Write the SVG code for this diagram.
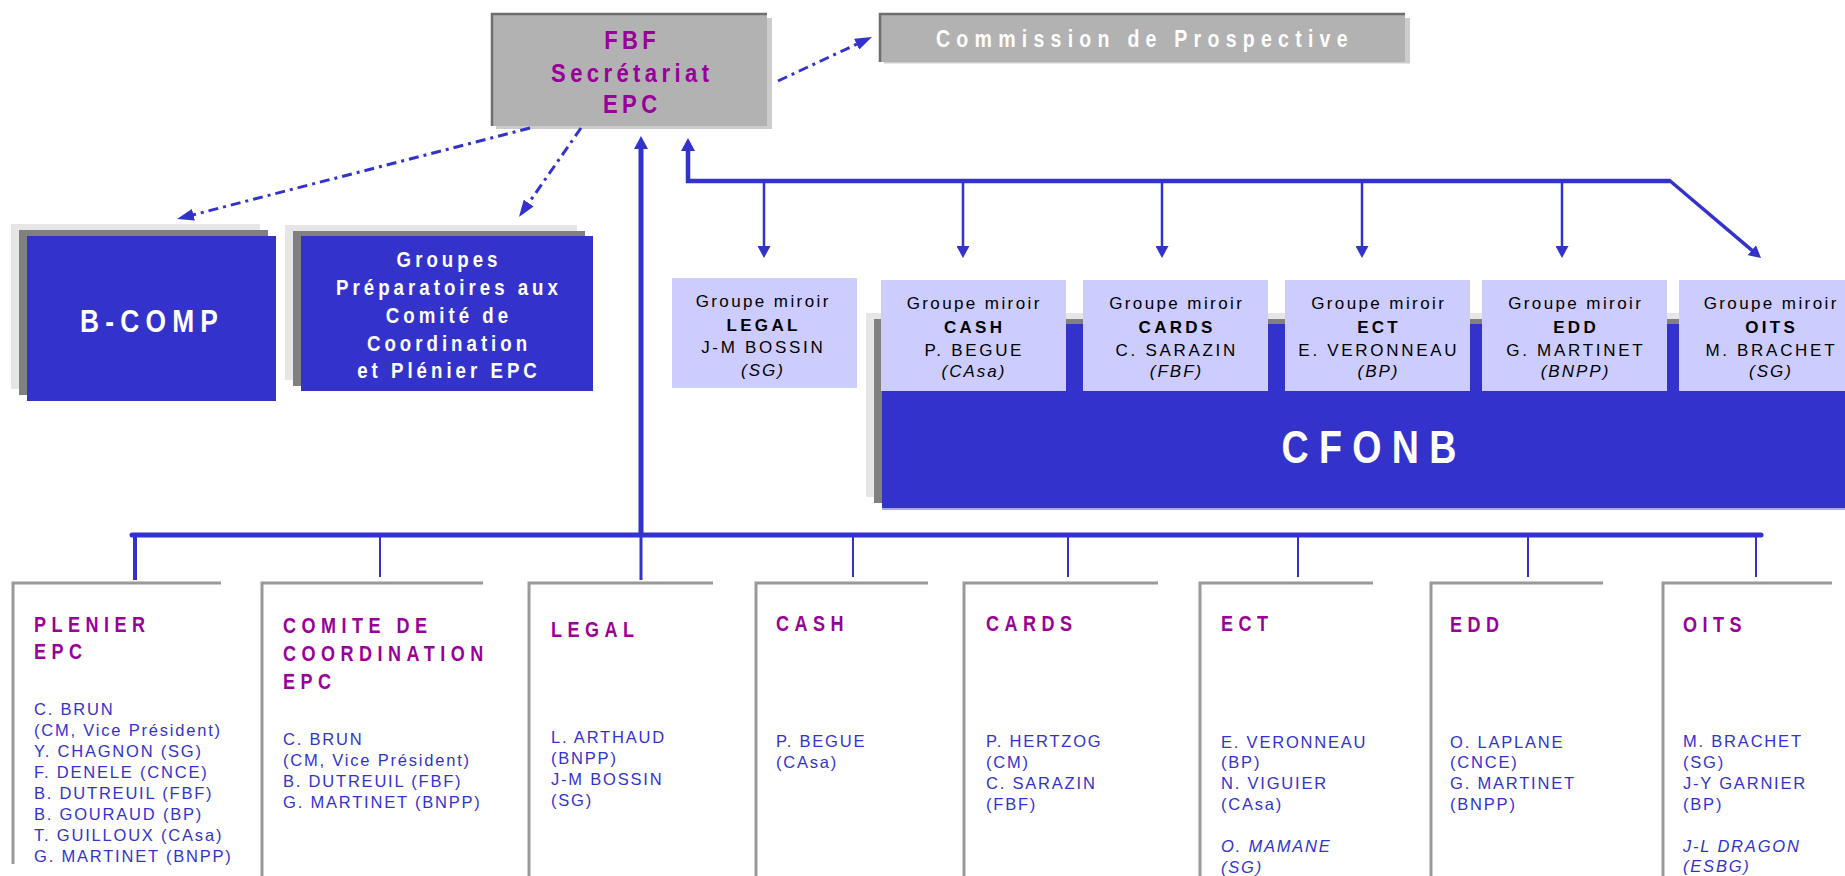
<svg xmlns="http://www.w3.org/2000/svg" width="1845" height="876" viewBox="0 0 1845 876">
<style>
text{font-family:"Liberation Sans",Arial,Helvetica,sans-serif}
.b{font-weight:bold}
.pur{fill:#990099}
.wh{fill:#ffffff}
.mid{text-anchor:middle}
.fbf{font-size:26px;letter-spacing:5.15px}
.com{font-size:23px;letter-spacing:7.35px}
.bcomp{font-size:31px;letter-spacing:7.3px}
.grp{font-size:22px;letter-spacing:4.7px}
.cfonb{font-size:47px;letter-spacing:12.9px}
.ttl{font-size:22px;letter-spacing:6.7px;font-weight:bold;fill:#990099}
.mem{font-size:16.5px;letter-spacing:1.8px;fill:#3333cc}
.it{font-style:italic}
.m1{font-size:17px;letter-spacing:2.4px;fill:#000;text-anchor:middle}
.m2{font-size:17px;letter-spacing:3.3px;fill:#000;text-anchor:middle;font-weight:bold}
.m3{font-size:17px;letter-spacing:2.7px;fill:#000;text-anchor:middle}
.m4{font-size:17px;letter-spacing:2px;fill:#000;text-anchor:middle;font-style:italic}
.mir{fill:#ccccff}
.bx{fill:none;stroke:#999999;stroke-width:3}
.blue{fill:#3333cc}
.lg{fill:#e6e6e6}
.dg{fill:#808080}
.con{fill:none;stroke:#3333cc}
.dd{stroke-width:3;stroke-dasharray:10 5 3 5}
</style>
<defs>
<marker id="ahD" viewBox="0 0 17 12" refX="1" refY="6" markerWidth="17" markerHeight="12" markerUnits="userSpaceOnUse" orient="auto"><path d="M0,0 L17,6 L0,12 z" fill="#3333cc"/></marker>
<marker id="ahT" viewBox="0 0 13 14" refX="1" refY="7" markerWidth="13" markerHeight="14" markerUnits="userSpaceOnUse" orient="auto"><path d="M0,0 L13,7 L0,14 z" fill="#3333cc"/></marker>
<marker id="ahS" viewBox="0 0 12 13" refX="1" refY="6.5" markerWidth="12" markerHeight="13" markerUnits="userSpaceOnUse" orient="auto"><path d="M0,0 L12,6.5 L0,13 z" fill="#3333cc"/></marker>
</defs>
<rect width="1845" height="876" fill="#ffffff"/>

<g id="fbf">
<rect x="496" y="18" width="276" height="111" fill="#cccccc"/>
<rect x="492" y="14" width="275" height="112" fill="#b2b2b2"/>
<path d="M492,126 V14 H767" fill="none" stroke="#6e6e6e" stroke-width="2.5"/>
<g transform="translate(630,0) scale(0.85,1)">
<text class="b pur mid fbf" x="2.6" y="49">FBF</text>
<text class="b pur mid fbf" x="2.6" y="82">Secrétariat</text>
<text class="b pur mid fbf" x="2.6" y="113">EPC</text>
</g>
</g>

<g id="commission">
<rect x="884" y="18" width="526" height="45.5" fill="#cccccc"/>
<rect x="880" y="14" width="525" height="48" fill="#b2b2b2"/>
<path d="M880,62 V14 H1405" fill="none" stroke="#6e6e6e" stroke-width="2.5"/>
<g transform="translate(936,0) scale(0.85,1)">
<text class="b wh com" x="0" y="47">Commission de Prospective</text>
</g>
</g>

<g id="bcomp">
<rect class="lg" x="11" y="224" width="249" height="165"/>
<rect class="dg" x="19" y="230" width="249" height="165"/>
<rect class="blue" x="27" y="236" width="249" height="165"/>
<g transform="translate(149,0) scale(0.85,1)">
<text class="b wh mid bcomp" x="3.65" y="332">B-COMP</text>
</g>
</g>

<g id="groupes">
<rect class="lg" x="285" y="225" width="292" height="155"/>
<rect class="dg" x="293" y="231" width="292" height="155"/>
<rect class="blue" x="301" y="236" width="292" height="155"/>
<g transform="translate(447,0) scale(0.85,1)">
<text class="b wh mid grp" x="2.35" y="267">Groupes</text>
<text class="b wh mid grp" x="2.35" y="295">Préparatoires aux</text>
<text class="b wh mid grp" x="2.35" y="323">Comité de</text>
<text class="b wh mid grp" x="2.35" y="351">Coordination</text>
<text class="b wh mid grp" x="2.35" y="378">et Plénier EPC</text>
</g>
</g>

<g id="cfonb">
<rect class="lg" x="866" y="313" width="990" height="184"/>
<rect class="dg" x="874" y="319" width="990" height="184"/>
<rect class="blue" x="882" y="324" width="990" height="184"/>
<rect x="882" y="508" width="990" height="2" fill="#a8a8e8"/>
<g transform="translate(1369,0) scale(0.8,1)">
<text class="b wh mid cfonb" x="6.45" y="463">CFONB</text>
</g>
</g>

<g id="miroir-legal">
<rect class="mir" x="672" y="278" width="185" height="110"/>
<text class="m1" x="763.2" y="307">Groupe miroir</text>
<text class="m2" x="763.6" y="331">LEGAL</text>
<text class="m3" x="763.3" y="353">J-M BOSSIN</text>
<text class="m4" x="763" y="376">(SG)</text>
</g>
<g id="miroir-cash">
<rect class="mir" x="881" y="280" width="185" height="111"/>
<text class="m1" x="974.2" y="309">Groupe miroir</text>
<text class="m2" x="974.6" y="333">CASH</text>
<text class="m3" x="974.3" y="356">P. BEGUE</text>
<text class="m4" x="974" y="377">(CAsa)</text>
</g>
<g id="miroir-cards">
<rect class="mir" x="1083" y="280" width="185" height="111"/>
<text class="m1" x="1176.7" y="309">Groupe miroir</text>
<text class="m2" x="1177.1" y="333">CARDS</text>
<text class="m3" x="1176.8" y="356">C. SARAZIN</text>
<text class="m4" x="1176.5" y="377">(FBF)</text>
</g>
<g id="miroir-ect">
<rect class="mir" x="1285" y="280" width="185" height="111"/>
<text class="m1" x="1378.7" y="309">Groupe miroir</text>
<text class="m2" x="1379.1" y="333">ECT</text>
<text class="m3" x="1378.8" y="356">E. VERONNEAU</text>
<text class="m4" x="1378.5" y="377">(BP)</text>
</g>
<g id="miroir-edd">
<rect class="mir" x="1482" y="280" width="185" height="111"/>
<text class="m1" x="1575.7" y="309">Groupe miroir</text>
<text class="m2" x="1576.1" y="333">EDD</text>
<text class="m3" x="1575.8" y="356">G. MARTINET</text>
<text class="m4" x="1575.5" y="377">(BNPP)</text>
</g>
<g id="miroir-oits">
<rect class="mir" x="1679" y="280" width="185" height="111"/>
<text class="m1" x="1771.2" y="309">Groupe miroir</text>
<text class="m2" x="1771.6" y="333">OITS</text>
<text class="m3" x="1771.3" y="356">M. BRACHET</text>
<text class="m4" x="1771" y="377">(SG)</text>
</g>

<g id="box-plenier">
<path class="bx" d="M13,864 V583 H221"/>
<g transform="translate(34,0) scale(0.82,1)">
<text class="ttl" x="0" y="632">PLENIER</text>
<text class="ttl" x="0" y="659">EPC</text>
</g>
<text class="mem" x="34" y="715">C. BRUN</text>
<text class="mem" x="34" y="736">(CM, Vice Président)</text>
<text class="mem" x="34" y="757">Y. CHAGNON (SG)</text>
<text class="mem" x="34" y="778">F. DENELE (CNCE)</text>
<text class="mem" x="34" y="799">B. DUTREUIL (FBF)</text>
<text class="mem" x="34" y="820">B. GOURAUD (BP)</text>
<text class="mem" x="34" y="841">T. GUILLOUX (CAsa)</text>
<text class="mem" x="34" y="862">G. MARTINET (BNPP)</text>
</g>

<g id="box-comite">
<path class="bx" d="M262,876 V583 H483"/>
<g transform="translate(283,0) scale(0.82,1)">
<text class="ttl" x="0" y="633">COMITE DE</text>
<text class="ttl" x="0" y="661">COORDINATION</text>
<text class="ttl" x="0" y="689">EPC</text>
</g>
<text class="mem" x="283" y="745">C. BRUN</text>
<text class="mem" x="283" y="766">(CM, Vice Président)</text>
<text class="mem" x="283" y="787">B. DUTREUIL (FBF)</text>
<text class="mem" x="283" y="808">G. MARTINET (BNPP)</text>
</g>

<g id="box-legal">
<path class="bx" d="M529,876 V583 H713"/>
<g transform="translate(551,0) scale(0.82,1)">
<text class="ttl" x="0" y="637">LEGAL</text>
</g>
<text class="mem" x="551" y="743">L. ARTHAUD</text>
<text class="mem" x="551" y="764">(BNPP)</text>
<text class="mem" x="551" y="785">J-M BOSSIN</text>
<text class="mem" x="551" y="806">(SG)</text>
</g>

<g id="box-cash">
<path class="bx" d="M756,876 V583 H928"/>
<g transform="translate(776,0) scale(0.82,1)">
<text class="ttl" x="0" y="631">CASH</text>
</g>
<text class="mem" x="776" y="747">P. BEGUE</text>
<text class="mem" x="776" y="768">(CAsa)</text>
</g>

<g id="box-cards">
<path class="bx" d="M964,876 V583 H1158"/>
<g transform="translate(986,0) scale(0.82,1)">
<text class="ttl" x="0" y="631">CARDS</text>
</g>
<text class="mem" x="986" y="747">P. HERTZOG</text>
<text class="mem" x="986" y="768">(CM)</text>
<text class="mem" x="986" y="789">C. SARAZIN</text>
<text class="mem" x="986" y="810">(FBF)</text>
</g>

<g id="box-ect">
<path class="bx" d="M1200,876 V583 H1373"/>
<g transform="translate(1221,0) scale(0.82,1)">
<text class="ttl" x="0" y="631">ECT</text>
</g>
<text class="mem" x="1221" y="748">E. VERONNEAU</text>
<text class="mem" x="1221" y="768">(BP)</text>
<text class="mem" x="1221" y="789">N. VIGUIER</text>
<text class="mem" x="1221" y="810">(CAsa)</text>
<text class="mem it" x="1221" y="852">O. MAMANE</text>
<text class="mem it" x="1221" y="873">(SG)</text>
</g>

<g id="box-edd">
<path class="bx" d="M1431,876 V583 H1603"/>
<g transform="translate(1450,0) scale(0.82,1)">
<text class="ttl" x="0" y="632">EDD</text>
</g>
<text class="mem" x="1450" y="748">O. LAPLANE</text>
<text class="mem" x="1450" y="768">(CNCE)</text>
<text class="mem" x="1450" y="789">G. MARTINET</text>
<text class="mem" x="1450" y="810">(BNPP)</text>
</g>

<g id="box-oits">
<path class="bx" d="M1663,876 V583 H1832"/>
<g transform="translate(1683,0) scale(0.82,1)">
<text class="ttl" x="0" y="632">OITS</text>
</g>
<text class="mem" x="1683" y="747">M. BRACHET</text>
<text class="mem" x="1683" y="768">(SG)</text>
<text class="mem" x="1683" y="789">J-Y GARNIER</text>
<text class="mem" x="1683" y="810">(BP)</text>
<text class="mem it" x="1683" y="852">J-L DRAGON</text>
<text class="mem it" x="1683" y="872">(ESBG)</text>
</g>

<g id="connectors">
<path class="con dd" d="M778,81 L857.5,43.8" marker-end="url(#ahD)"/>
<path class="con dd" d="M530,128 L192.5,215" marker-end="url(#ahD)"/>
<path class="con dd" d="M581,128 L528.1,203.9" marker-end="url(#ahD)"/>
<path class="con" stroke-width="5" d="M641,537 V148" marker-end="url(#ahT)"/>
<path class="con" stroke-width="4.5" d="M1670,181 H688 V150" marker-end="url(#ahT)"/>
<path class="con" stroke-width="3.5" d="M1669,180 L1752.6,250.9" marker-end="url(#ahS)"/>
<path class="con" stroke-width="2.5" d="M764,181 V247" marker-end="url(#ahS)"/>
<path class="con" stroke-width="2.5" d="M963,181 V247" marker-end="url(#ahS)"/>
<path class="con" stroke-width="2.5" d="M1162,181 V247" marker-end="url(#ahS)"/>
<path class="con" stroke-width="2.5" d="M1362,181 V247" marker-end="url(#ahS)"/>
<path class="con" stroke-width="2.5" d="M1562,181 V247" marker-end="url(#ahS)"/>
<path class="con" stroke-width="5" stroke-linecap="round" d="M132,535 H1761"/>
<path class="con" stroke-width="4" d="M135,535 V580"/>
<path class="con" stroke-width="2" d="M380,535 V577"/>
<path class="con" stroke-width="3" d="M641,535 V580"/>
<path class="con" stroke-width="2" d="M853,535 V577"/>
<path class="con" stroke-width="2" d="M1068,535 V577"/>
<path class="con" stroke-width="2" d="M1298,535 V577"/>
<path class="con" stroke-width="2" d="M1528,535 V577"/>
<path class="con" stroke-width="2" d="M1756,535 V577"/>
</g>
</svg>
